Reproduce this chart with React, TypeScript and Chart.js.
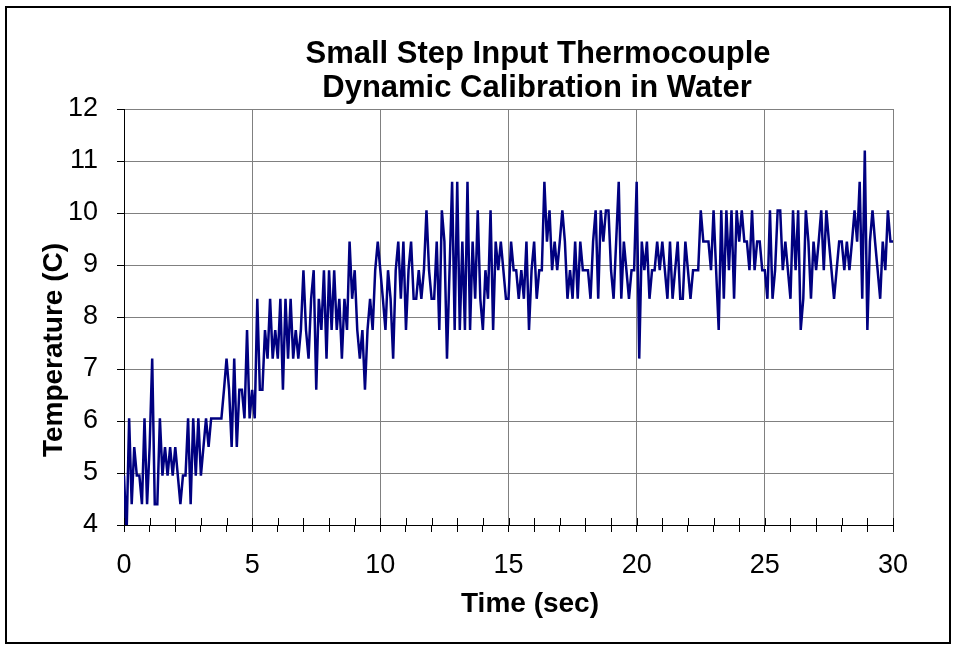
import { useEffect, useRef } from "react";
import { Chart, registerables } from "chart.js";

Chart.register(...registerables);

const TITLE_LINES = ["Small Step Input Thermocouple", "Dynamic Calibration in Water"];
const X_TITLE = "Time (sec)";
const Y_TITLE = "Temperature (C)";
const SAMPLE_INTERVAL = 0.1; // seconds between samples
const X_MIN = 0;
const X_MAX = 30;
const X_MAJOR = 5;
const Y_MIN = 4;
const Y_MAX = 12;

// Temperature readings (C), one every 0.1 s
const temp0to5 = [
  4.95, 3.8, 6.05, 4.4, 5.5, 4.95, 4.95, 4.4, 6.05, 4.4,
  5.5, 7.2, 4.4, 4.4, 6.05, 4.95, 5.5, 4.95, 5.5, 4.95,
  5.5, 4.95, 4.4, 4.95, 4.95, 6.05, 4.4, 6.05, 4.95, 6.05,
  4.95, 5.5, 6.05, 5.5, 6.05, 6.05, 6.05, 6.05, 6.05, 6.6,
  7.2, 6.6, 5.5, 7.2, 5.5, 6.6, 6.6, 6.05, 7.75, 6.05,
];
const temp5to10 = [
  6.6, 6.05, 8.35, 6.6, 6.6, 7.75, 7.2, 8.35, 7.2, 7.75,
  7.2, 8.35, 6.6, 8.35, 7.2, 8.35, 7.2, 7.75, 7.2, 7.75,
  8.9, 7.75, 7.2, 8.35, 8.9, 6.6, 8.35, 7.75, 8.9, 7.2,
  8.9, 7.75, 8.9, 7.75, 8.35, 7.2, 8.35, 7.75, 9.45, 8.35,
  8.9, 7.75, 7.2, 7.75, 6.6, 7.75, 8.35, 7.75, 8.9, 9.45,
];
const temp10to15 = [
  8.9, 8.35, 7.75, 8.9, 8.35, 7.2, 8.9, 9.45, 8.35, 9.45,
  7.75, 8.9, 9.45, 8.35, 8.35, 8.9, 8.35, 8.9, 10.05, 8.9,
  8.35, 8.35, 9.45, 7.75, 10.05, 9.45, 7.2, 8.9, 10.6, 7.75,
  10.6, 7.75, 9.45, 7.75, 10.6, 7.75, 9.45, 8.35, 10.05, 8.35,
  7.75, 8.9, 8.35, 10.05, 7.75, 9.45, 8.9, 9.45, 8.9, 8.35,
];
const temp15to20 = [
  8.35, 9.45, 8.9, 8.9, 8.35, 8.9, 8.35, 9.45, 7.75, 8.9,
  9.45, 8.35, 8.9, 8.9, 10.6, 9.45, 10.05, 8.9, 9.45, 8.9,
  9.45, 10.05, 9.45, 8.35, 8.9, 8.35, 9.45, 8.35, 9.45, 8.9,
  8.9, 8.9, 8.35, 9.45, 10.05, 8.35, 10.05, 9.45, 10.05, 10.05,
  8.9, 8.35, 9.45, 10.6, 8.35, 9.45, 8.9, 8.35, 8.9, 8.9,
];
const temp20to25 = [
  10.6, 7.2, 9.45, 8.9, 9.45, 8.35, 8.9, 8.9, 9.45, 8.9,
  9.45, 8.9, 8.35, 9.45, 8.35, 8.9, 9.45, 8.35, 8.35, 9.45,
  8.9, 8.35, 8.9, 8.9, 8.9, 10.05, 9.45, 9.45, 9.45, 8.9,
  10.05, 8.9, 7.75, 10.05, 8.35, 10.05, 8.9, 10.05, 8.35, 10.05,
  9.45, 10.05, 9.45, 9.45, 8.9, 10.05, 8.9, 9.45, 9.45, 8.9,
];
const temp25to30 = [
  8.9, 8.35, 10.05, 8.35, 8.9, 10.05, 10.05, 8.9, 9.45, 8.9,
  8.35, 10.05, 8.9, 10.05, 7.75, 8.35, 10.05, 9.45, 8.35, 9.45,
  8.9, 9.45, 10.05, 8.9, 10.05, 9.45, 8.9, 8.35, 8.9, 9.45,
  9.45, 8.9, 9.45, 8.9, 9.45, 10.05, 9.45, 10.6, 8.35, 11.2,
  7.75, 9.45, 10.05, 9.45, 8.9, 8.35, 9.45, 8.9, 10.05, 9.45,
  9.45,
];

const FONT = '"Liberation Sans", Arial, Helvetica, sans-serif';

const decorPlugin = {
  id: "decor",
  afterDraw(chart: any) {
    const { ctx, chartArea, scales } = chart;
    ctx.save();
    // inner halves of the x-axis tick marks
    ctx.strokeStyle = "#000";
    ctx.lineWidth = 1;
    const xs = scales.x;
    xs.ticks.forEach((t: any) => {
      const px = Math.round(xs.getPixelForValue(t.value)) + 0.5;
      ctx.beginPath();
      ctx.moveTo(px, chartArea.bottom - 7);
      ctx.lineTo(px, chartArea.bottom);
      ctx.stroke();
    });
    // chart title
    ctx.fillStyle = "#000";
    ctx.textAlign = "center";
    ctx.textBaseline = "alphabetic";
    ctx.font = `bold 31px ${FONT}`;
    ctx.fillText(TITLE_LINES[0], 538, 63);
    ctx.fillText(TITLE_LINES[1], 537, 97);
    // axis titles
    ctx.font = `bold 28px ${FONT}`;
    ctx.fillText(X_TITLE, 530, 612);
    ctx.translate(62, 350);
    ctx.rotate(-Math.PI / 2);
    ctx.fillText(Y_TITLE, 0, 0);
    ctx.restore();
  },
};

export default function App() {
  const canvasRef = useRef<HTMLCanvasElement | null>(null);

  useEffect(() => {
    const segments = [temp0to5, temp5to10, temp10to15, temp15to20, temp20to25, temp25to30];
    const points: { x: number; y: number }[] = [];
    let idx = 0;
    segments.forEach((seg) =>
      seg.forEach((v) => {
        points.push({ x: +(idx * SAMPLE_INTERVAL).toFixed(2), y: v });
        idx += 1;
      })
    );

    const chart = new Chart(canvasRef.current as HTMLCanvasElement, {
      type: "line",
      data: {
        datasets: [
          {
            data: points,
            borderColor: "#000080",
            borderWidth: 2.5,
            pointRadius: 0,
            tension: 0,
            fill: false,
          },
        ],
      },
      plugins: [decorPlugin],
      options: {
        animation: false,
        responsive: true,
        maintainAspectRatio: false,
        devicePixelRatio: 1,
        layout: { padding: { left: 0, right: 62, top: 109, bottom: 62 } },
        plugins: { legend: { display: false }, tooltip: { enabled: false }, title: { display: false } },
        scales: {
          x: {
            type: "linear",
            min: X_MIN,
            max: X_MAX,
            afterFit: (s: any) => {
              s.height = 60;
            },
            ticks: {
              stepSize: 1,
              autoSkip: false,
              maxRotation: 0,
              padding: 17,
              color: "#000",
              font: { family: FONT, size: 27 },
              callback: (v: any) => (Number(v) % X_MAJOR === 0 ? String(v) : ""),
            },
            grid: {
              color: (c: any) => (c.tick && c.tick.value % X_MAJOR === 0 ? "#808080" : "rgba(0,0,0,0)"),
              tickColor: "#000",
              tickLength: 7,
              lineWidth: 1,
            },
            border: { color: "#000", width: 1 },
          },
          y: {
            min: Y_MIN,
            max: Y_MAX,
            afterFit: (s: any) => {
              s.width = 124;
            },
            ticks: {
              stepSize: 1,
              padding: 19,
              color: "#000",
              font: { family: FONT, size: 27 },
            },
            grid: { color: "#808080", tickColor: "#000", tickLength: 7, lineWidth: 1 },
            border: { color: "#000", width: 1 },
          },
        },
      },
    });
    return () => chart.destroy();
  }, []);

  return (
    <div style={{ position: "absolute", left: 0, top: 0, width: 955, height: 647, background: "#fff" }}>
      <div
        style={{
          position: "absolute",
          left: 5,
          top: 6,
          width: 946,
          height: 638,
          border: "2px solid #000",
          boxSizing: "border-box",
        }}
      />
      <div style={{ position: "absolute", left: 0, top: 0, width: 955, height: 647 }}>
        <canvas ref={canvasRef} />
      </div>
    </div>
  );
}
